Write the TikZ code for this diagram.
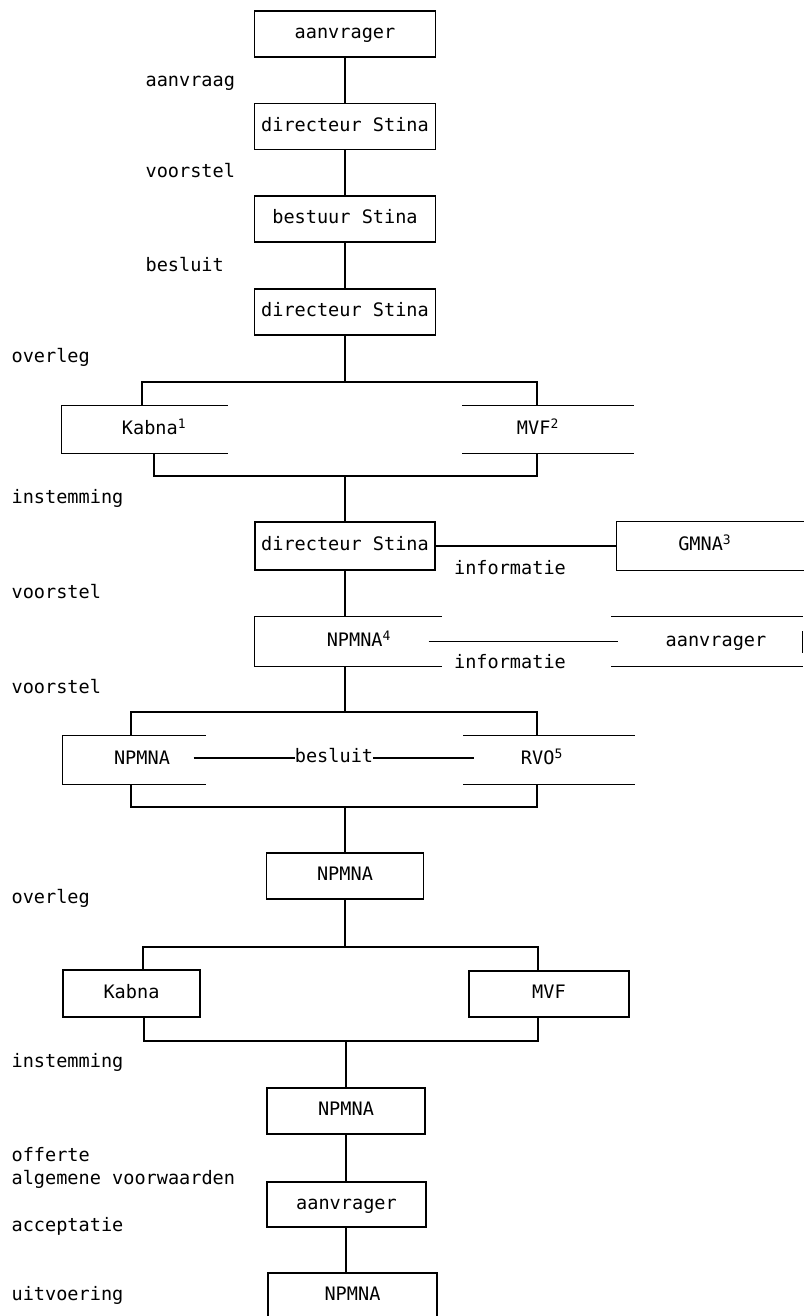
\documentclass[tikz,border=0pt]{standalone}
\usepackage{fontspec}
\setmainfont{DejaVu Sans Mono}

\begin{document}
\begin{tikzpicture}[
    line width=0.9pt,
    every node/.style={font=\fontsize{13.2}{16}\selectfont, text height=10pt, text depth=3pt},
    orgframe/.style={inner sep=0pt, minimum height=1.17cm},
    orgbox/.style={orgframe, draw},
    phase/.style={anchor=west, inner sep=0pt}
  ]

\useasboundingbox (0,0) rectangle (20.1,-32.9);

%main column top
\node[orgbox, minimum width=4.525cm, minimum height=1.15cm] (aanv1) at (8.625,-0.85) {aanvrager};
\node[orgbox, minimum width=4.525cm, minimum height=1.15cm] (dir1) at (8.625,-3.1625) {directeur Stina};
\node[orgbox, minimum width=4.525cm, minimum height=1.15cm] (best) at (8.625,-5.475) {bestuur Stina};
\node[orgbox, minimum width=4.525cm, minimum height=1.15cm] (dir2) at (8.625,-7.8) {directeur Stina};

\draw (aanv1) -- (dir1);
\draw (dir1) -- (best);
\draw (best) -- (dir2);

% overleg 1
\node[orgframe, minimum width=4.125cm, label={[xshift=0.24cm]center:{Kabna\textsuperscript{1}}}] (kabna1) at (3.6125,-10.7375) {};
\node[orgframe, minimum width=4.25cm, label={[xshift=-0.25cm]center:{MVF\textsuperscript{2}}}] (mvf1) at (13.7,-10.7375) {};
\draw (kabna1.north east) -- (kabna1.north west) -- (kabna1.south west) -- (kabna1.south east);
\draw (mvf1.north west) -- (mvf1.north east);
\draw (mvf1.south west) -- (mvf1.south east);

\coordinate (ovL) at (3.55,-9.55);
\coordinate (ovR) at (13.425,-9.55);
\draw (dir2.south) -- (dir2.south |- ovL);
\draw (kabna1.north -| ovL) -- (ovL) -- (ovR) -- (mvf1.north -| ovR);

\coordinate (inL) at (3.85,-11.9);
\coordinate (inR) at (13.425,-11.9);
\draw (kabna1.south -| inL) -- (inL) -- (inR) -- (mvf1.south -| inR);

% directeur, GMNA
\node[orgbox, minimum width=4.5cm, minimum height=1.2cm] (dir3) at (8.625,-13.65) {directeur Stina};
\node[orgframe, minimum width=4.675cm, minimum height=1.2cm, label={[xshift=-0.14cm]center:{GMNA\textsuperscript{3}}}] (gmna) at (17.7625,-13.65) {};
\draw (gmna.north east) -- (gmna.north west) -- (gmna.south west) -- (gmna.south east);
\draw (dir3.north) -- (dir3.north |- inL);
\draw (dir3.east) -- (gmna.west);
\node (info1) at (12.75,-14.25) {informatie};

% NPMNA, aanvrager
\node[orgframe, minimum width=4.65cm, minimum height=1.225cm, label={[xshift=0.275cm]center:{NPMNA\textsuperscript{4}}}] (npmna4) at (8.7,-16.0375) {};
\node[orgframe, minimum width=4.75cm, minimum height=1.225cm, label={[xshift=0.225cm]center:{aanvrager}}] (aanv2) at (17.675,-16.0375) {};
\draw (npmna4.north east) -- (npmna4.north west) -- (npmna4.south west) -- (npmna4.south east);
\draw (aanv2.north west) -- (aanv2.north east);
\draw (aanv2.south west) -- (aanv2.south east);
\draw ([yshift=-0.375cm]aanv2.north east) -- ([yshift=0.35cm]aanv2.south east);
\draw (dir3.south) -- (dir3.south |- npmna4.north);
\draw ([xshift=-0.325cm]npmna4.east) -- ([xshift=0.175cm]aanv2.west);
\node (info2) at (12.75,-16.6) {informatie};

% besluit NPMNA, RVO
\node[orgframe, minimum width=3.55cm, minimum height=1.2cm, label={[xshift=0.2cm]center:{NPMNA}}] (npmna3) at (3.35,-19.0) {};
\node[orgframe, minimum width=4.25cm, minimum height=1.2cm, label={[xshift=-0.175cm]center:{RVO\textsuperscript{5}}}] (rvo) at (13.725,-19.0) {};
\draw (npmna3.north east) -- (npmna3.north west) -- (npmna3.south west) -- (npmna3.south east);
\draw (rvo.north west) -- (rvo.north east);
\draw (rvo.south west) -- (rvo.south east);
\draw ([xshift=-0.3cm,yshift=0.05cm]npmna3.east) -- node[fill=white, inner xsep=0pt] (besl) {besluit} ([xshift=0.275cm,yshift=0.05cm]rvo.west);

\coordinate (vsL) at (3.275,-17.8);
\coordinate (vsR) at (13.425,-17.8);
\draw (dir3.south |- npmna4.south) -- (dir3.south |- vsL);
\draw (npmna3.north -| vsL) -- (vsL) -- (vsR) -- (rvo.north -| vsR);

\coordinate (bsL) at (3.275,-20.175);
\coordinate (bsR) at (13.425,-20.175);
\draw (npmna3.south -| bsL) -- (bsL) -- (bsR) -- (rvo.south -| bsR);

% overleg 2
\node[orgbox, minimum width=3.925cm, minimum height=1.15cm] (npmna5) at (8.625,-21.9) {NPMNA};
\draw (npmna5.north) -- (npmna5.north |- bsL);

\node[orgbox, minimum width=3.425cm, minimum height=1.175cm] (kabna2) at (3.2875,-24.8375) {Kabna};
\node[orgbox, minimum width=4cm, minimum height=1.15cm] (mvf2) at (13.725,-24.85) {MVF};

\coordinate (ov2L) at (3.575,-23.675);
\coordinate (ov2R) at (13.45,-23.675);
\draw (npmna5.south) -- (npmna5.south |- ov2L);
\draw (kabna2.north -| ov2L) -- (ov2L) -- (ov2R) -- (mvf2.north -| ov2R);

\coordinate (in2L) at (3.6,-26.025);
\coordinate (in2R) at (13.45,-26.025);
\draw (kabna2.south -| in2L) -- (in2L) -- (in2R) -- (mvf2.south -| in2R);

% main column bottom
\node[orgbox, minimum width=3.95cm, minimum height=1.15cm] (npmna6) at (8.65,-27.775) {NPMNA};
\node[orgbox, minimum width=3.975cm, minimum height=1.125cm] (aanv3) at (8.6625,-30.1125) {aanvrager};
\node[orgbox, minimum width=4.225cm, minimum height=1.15cm] (npmna7) at (8.8125,-32.4) {NPMNA};

\draw (npmna6.north) -- (npmna6.north |- in2L);
\draw (npmna6.south) -- (npmna6.south |- aanv3.north);
\draw (npmna6.south |- aanv3.south) -- (npmna6.south |- npmna7.north);

% stages
\node[phase] (stg1) at (3.625,-2.05) {aanvraag};
\node[phase] (stg2) at (3.625,-4.325) {voorstel};
\node[phase] (stg3) at (3.625,-6.675) {besluit};
\node[phase] (stg4) at (0.275,-8.95) {overleg};
\node[phase] (stg5) at (0.275,-12.475) {instemming};
\node[phase] (stg6) at (0.275,-14.85) {voorstel};
\node[phase] (stg7) at (0.275,-17.225) {voorstel};
\node[phase] (stg8) at (0.275,-22.475) {overleg};
\node[phase] (stg9) at (0.275,-26.575) {instemming};
\node[phase] (stg10) at (0.275,-28.925) {offerte};
\node[phase] (stg11) at (0.275,-29.5) {algemene voorwaarden};
\node[phase] (stg12) at (0.275,-30.675) {acceptatie};
\node[phase] (stg13) at (0.275,-32.4) {uitvoering};

\end{tikzpicture}
\end{document}
